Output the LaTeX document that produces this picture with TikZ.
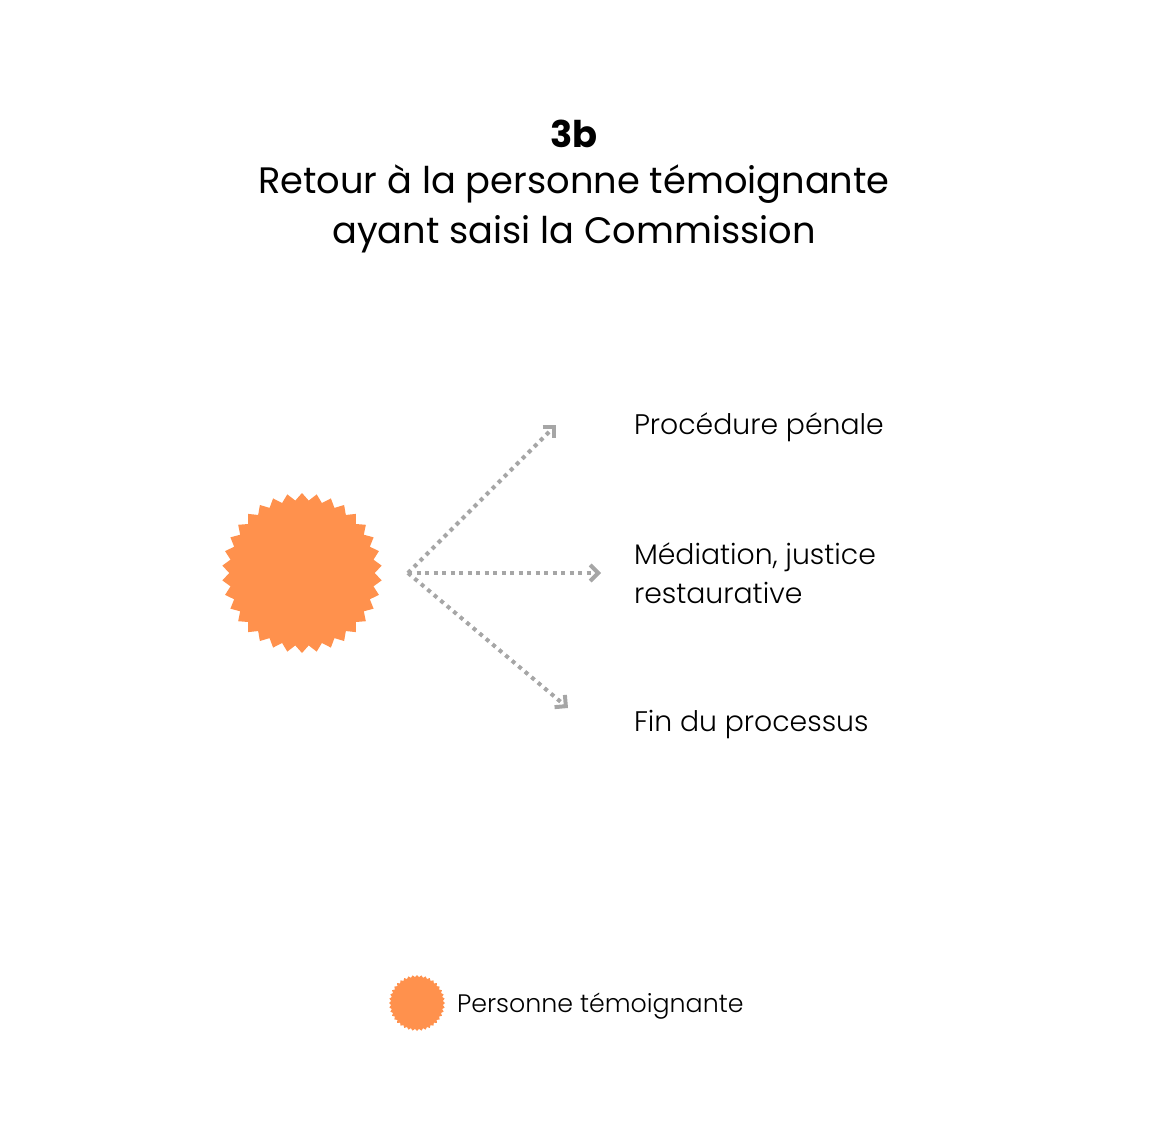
\documentclass[tikz,border=0pt]{standalone}
\usepackage{fontspec}
\setmainfont{Poppins}
\newfontfamily\lightfont{Poppins}[UprightFont=* Light]
\usetikzlibrary{shapes.geometric,arrows.meta}
\definecolor{burst}{HTML}{FF914D}
\definecolor{arrowgray}{HTML}{A6A6A6}
\begin{document}
\begin{tikzpicture}[x=1pt, y=-1pt,
    every node/.style={inner sep=0pt, outer sep=0pt},
    title/.style={anchor=base, font=\fontsize{36.8}{50}\selectfont},
    outcome/.style={anchor=base west, font=\fontsize{28.3}{39}\selectfont\lightfont},
    branch/.style={arrowgray, line width=4pt, dash pattern=on 4pt off 4.5pt,
        -{Straight Barb[length=8pt, width=16pt, line width=4pt]}}]
    \useasboundingbox (0,0) rectangle (1148,1148);
    % title
    \node[title, font=\fontsize{36.8}{50}\selectfont\bfseries] (t1) at (574,147) {3b};
    \node[title] (t2) at (574,193) {Retour à la personne témoignante};
    \node[title] (t3) at (574,243) {ayant saisi la Commission};
    % witness
    \node[star, star points=34, star point ratio=1.1, minimum size=160pt, fill=burst] (w) at (302,573) {};
    \coordinate (o) at (408,573);
    \coordinate (e1) at (556,425);
    \coordinate (e2) at (601,573);
    \coordinate (e3) at (568,708);
    \draw[branch] (o) -- (e1);
    \draw[branch] (o) -- (e2);
    \draw[branch] (o) -- (e3);
    % outcomes
    \node[outcome] (p) at (634,434) {Procédure pénale};
    \node[outcome] (m1) at (634,564) {Médiation, justice};
    \node[outcome] (m2) at (634,603) {restaurative};
    \node[outcome] (f) at (634,731) {Fin du processus};
    % legend
    \node[star, star points=40, star point ratio=1.08, minimum size=56pt, fill=burst] (lw) at (417,1003) {};
    \node[outcome, font=\fontsize{25.3}{30}\selectfont\lightfont] (lt) at (457,1012) {Personne témoignante};
\end{tikzpicture}
\end{document}
